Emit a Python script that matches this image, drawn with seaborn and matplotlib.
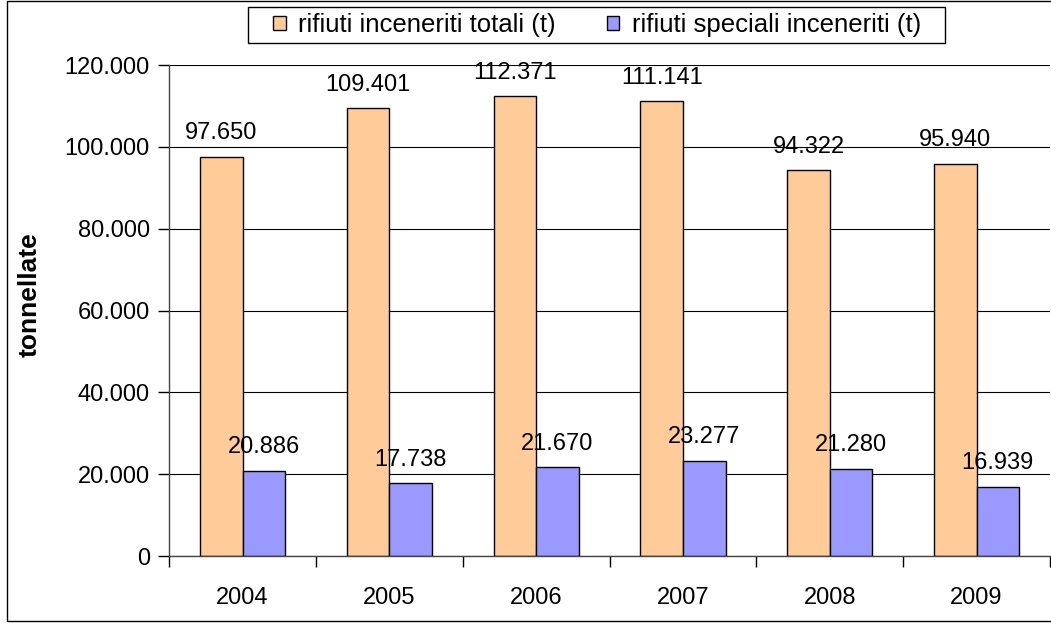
import matplotlib
matplotlib.use("Agg")
import matplotlib.pyplot as plt
import seaborn as sns
import pandas as pd
from matplotlib.patches import Rectangle
from matplotlib.ticker import FuncFormatter, MultipleLocator

years = ["2004", "2005", "2006", "2007", "2008", "2009"]
totali = [97650, 109401, 112371, 111141, 94322, 95940]
speciali = [20886, 17738, 21670, 23277, 21280, 16939]
series_names = ["rifiuti inceneriti totali (t)", "rifiuti speciali inceneriti (t)"]
colors = ["#FFCC99", "#9999FF"]

df = pd.DataFrame({
    "anno": years * 2,
    "valore": totali + speciali,
    "serie": [series_names[0]] * len(years) + [series_names[1]] * len(years),
})

sns.set_style("white")
plt.rcParams["font.family"] = ["Liberation Sans", "DejaVu Sans"]
plt.rcParams["text.color"] = "black"
plt.rcParams["xtick.color"] = "black"
plt.rcParams["ytick.color"] = "black"
plt.rcParams["axes.labelcolor"] = "black"

FS = 17

fig = plt.figure(figsize=(10.51, 6.23), dpi=100)
ax = fig.add_axes([0.161, 0.1075, 0.838, 0.788])

sns.barplot(data=df, x="anno", y="valore", hue="serie", palette=colors, saturation=1,
            width=0.58, gap=0, edgecolor="black", linewidth=1, ax=ax, legend=True)

# value labels
fmt = lambda v: f"{v:,.0f}".replace(",", ".")
for cont in ax.containers:
    ax.bar_label(cont, labels=[fmt(v) for v in cont.datavalues], padding=9, fontsize=FS)

ax.set_ylim(0, 120000)
ax.set_xlim(-0.5, len(years) - 0.5)
ax.yaxis.set_major_locator(MultipleLocator(20000))
ax.yaxis.set_major_formatter(FuncFormatter(lambda v, p: fmt(v)))
ax.yaxis.grid(True, color="black", linewidth=0.8)
ax.set_axisbelow(True)

ax.set_xlabel("")
ax.set_ylabel("tonnellate", fontsize=19, fontweight="bold")
ax.yaxis.set_label_coords(-0.1453, 0.532)

for s in ["top", "right"]:
    ax.spines[s].set_visible(False)
for s in ["left", "bottom"]:
    ax.spines[s].set_color("#444444")
    ax.spines[s].set_linewidth(1)

ax.tick_params(axis="y", labelsize=FS, length=8, width=1, direction="out", left=True, pad=6)
ax.tick_params(axis="x", which="major", labelsize=FS, length=0, pad=22)
ax.set_xticks([i - 0.5 for i in range(len(years) + 1)], minor=True)
ax.tick_params(axis="x", which="minor", length=8, width=1, direction="out", bottom=True)

# legend without frame, box drawn separately (wider horizontal padding)
handles, labels = ax.get_legend_handles_labels()
ax.legend(handles, labels, loc="center", bbox_to_anchor=(0.5678, 1 - 25 / 623), bbox_transform=fig.transFigure,
          ncol=2, fontsize=18.5, frameon=False,
          handlelength=0.5, handleheight=0.5, handletextpad=0.47, columnspacing=2.0,
          borderpad=0.0)
fig.patches.append(Rectangle((248 / 1051, 1 - 43 / 623), (945 - 248) / 1051, 36 / 623,
                             transform=fig.transFigure, fill=False,
                             edgecolor="black", linewidth=1, zorder=-1))

fig.patches.append(Rectangle((0.007, 0.003), 0.995, 0.995, transform=fig.transFigure,
                             fill=False, edgecolor="black", linewidth=1, zorder=-1))

fig.savefig("out.png", dpi=100)
